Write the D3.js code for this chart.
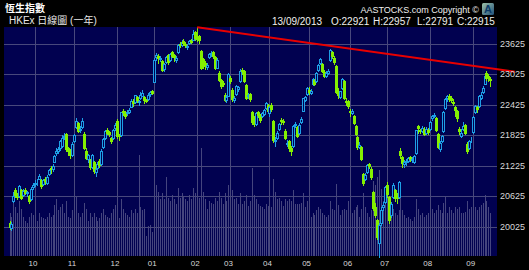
<!DOCTYPE html>
<html>
<head>
<meta charset="utf-8">
<script src="https://cdn.jsdelivr.net/npm/d3@7"></script>
<style>
  html, body { margin: 0; padding: 0; background: #000; }
  svg { display: block; }
  text { font-family: "Liberation Sans", Arial, sans-serif; }
</style>
</head>
<body>
<svg id="chart"></svg>
<script>
// HSI daily, 12/09/2012 - 13/09/2013
const dates = [
  "2012-09-12","2012-09-13","2012-09-14","2012-09-17","2012-09-18","2012-09-19","2012-09-20","2012-09-21","2012-09-24","2012-09-25","2012-09-26","2012-09-27","2012-09-28",
  "2012-10-03","2012-10-04","2012-10-05","2012-10-08","2012-10-09","2012-10-10","2012-10-11","2012-10-12","2012-10-15","2012-10-16","2012-10-17","2012-10-18","2012-10-19","2012-10-22","2012-10-24","2012-10-25","2012-10-26","2012-10-29","2012-10-30","2012-10-31",
  "2012-11-01","2012-11-02","2012-11-05","2012-11-06","2012-11-07","2012-11-08","2012-11-09","2012-11-12","2012-11-13","2012-11-14","2012-11-15","2012-11-16","2012-11-19","2012-11-20","2012-11-21","2012-11-22","2012-11-23","2012-11-26","2012-11-27","2012-11-28","2012-11-29","2012-11-30",
  "2012-12-03","2012-12-04","2012-12-05","2012-12-06","2012-12-07","2012-12-10","2012-12-11","2012-12-12","2012-12-13","2012-12-14","2012-12-17","2012-12-18","2012-12-19","2012-12-20","2012-12-21","2012-12-24","2012-12-27","2012-12-28","2012-12-31",
  "2013-01-02","2013-01-03","2013-01-04","2013-01-07","2013-01-08","2013-01-09","2013-01-10","2013-01-11","2013-01-14","2013-01-15","2013-01-16","2013-01-17","2013-01-18","2013-01-21","2013-01-22","2013-01-23","2013-01-24","2013-01-25","2013-01-28","2013-01-29","2013-01-30","2013-01-31",
  "2013-02-01","2013-02-04","2013-02-05","2013-02-06","2013-02-07","2013-02-08","2013-02-14","2013-02-15","2013-02-18","2013-02-19","2013-02-20","2013-02-21","2013-02-22","2013-02-25","2013-02-26","2013-02-27","2013-02-28",
  "2013-03-01","2013-03-04","2013-03-05","2013-03-06","2013-03-07","2013-03-08","2013-03-11","2013-03-12","2013-03-13","2013-03-14","2013-03-15","2013-03-18","2013-03-19","2013-03-20","2013-03-21","2013-03-22","2013-03-25","2013-03-26","2013-03-27","2013-03-28",
  "2013-04-02","2013-04-03","2013-04-05","2013-04-08","2013-04-09","2013-04-10","2013-04-11","2013-04-12","2013-04-15","2013-04-16","2013-04-17","2013-04-18","2013-04-19","2013-04-22","2013-04-23","2013-04-24","2013-04-25","2013-04-26","2013-04-29","2013-04-30",
  "2013-05-02","2013-05-03","2013-05-06","2013-05-07","2013-05-08","2013-05-09","2013-05-10","2013-05-13","2013-05-14","2013-05-15","2013-05-16","2013-05-20","2013-05-21","2013-05-22","2013-05-23","2013-05-24","2013-05-27","2013-05-28","2013-05-29","2013-05-30","2013-05-31",
  "2013-06-03","2013-06-04","2013-06-05","2013-06-06","2013-06-07","2013-06-10","2013-06-11","2013-06-13","2013-06-14","2013-06-17","2013-06-18","2013-06-19","2013-06-20","2013-06-21","2013-06-24","2013-06-25","2013-06-26","2013-06-27","2013-06-28",
  "2013-07-02","2013-07-03","2013-07-04","2013-07-05","2013-07-08","2013-07-09","2013-07-10","2013-07-11","2013-07-12","2013-07-15","2013-07-16","2013-07-17","2013-07-18","2013-07-19","2013-07-22","2013-07-23","2013-07-24","2013-07-25","2013-07-26","2013-07-29","2013-07-30","2013-07-31",
  "2013-08-01","2013-08-02","2013-08-05","2013-08-06","2013-08-07","2013-08-08","2013-08-09","2013-08-12","2013-08-13","2013-08-14","2013-08-15","2013-08-16","2013-08-19","2013-08-20","2013-08-21","2013-08-22","2013-08-23","2013-08-26","2013-08-27","2013-08-28","2013-08-29","2013-08-30",
  "2013-09-02","2013-09-03","2013-09-04","2013-09-05","2013-09-06","2013-09-09","2013-09-10","2013-09-11","2013-09-12","2013-09-13"
];

const open = [
  20090,20000,20520,20740,20640,20620,20750,20640,20750,20680,20620,20560,20800,
  20870,20900,20960,20930,20860,20950,20880,21060,21180,21150,21300,21480,21520,21560,21600,21780,21840,21560,21520,21440,
  21700,21980,22060,21930,21980,21850,21520,21350,21330,21200,21300,21100,21180,21320,21250,21580,21760,21930,21880,21760,21760,21960,
  22100,21830,21820,22300,22260,22250,22280,22380,22500,22480,22580,22480,22560,22600,22580,22510,22540,22640,22700,
  22860,23350,23380,23320,23280,23120,23260,23400,23300,23450,23390,23300,23450,23620,23600,23680,23620,23560,23640,23700,23700,23850,
  23760,23780,23480,23320,23240,23160,23360,23420,23450,23350,23150,23050,22900,22850,22620,22520,22600,
  22950,22720,22520,22640,22730,22880,23100,23080,22800,22600,22640,22280,22150,22050,22280,22200,22200,22240,22360,22420,
  22250,22420,22100,21700,21760,21950,22120,22100,21900,21650,21700,21560,21600,22030,21980,21860,22080,22300,22520,22640,
  22720,22660,22820,22900,22880,23100,23250,23220,23060,22980,23050,23300,23460,23330,23180,22700,22580,22750,22880,22500,22500,
  22300,22250,22200,22000,21780,21580,21580,21050,20950,21100,21250,21150,20700,20400,20150,19700,20100,20400,20500,
  20850,20600,20250,20600,20750,20620,20600,21520,21400,21250,21290,21320,21390,21340,21300,21480,22010,21920,21900,21950,21870,21930,
  21950,22150,22200,22150,21850,21550,21700,21900,22350,22560,22600,22560,22480,22380,22300,21950,21800,21950,22020,21650,21560,21720,
  21880,22280,22380,22400,22560,22680,22830,23050,22980,22921
];

const high = [
  20140,20110,20700,20790,20680,20850,20760,20760,20790,20720,20640,20800,20880,
  20930,20950,21060,20960,20960,20990,21030,21160,21220,21250,21440,21560,21590,21730,21830,21870,21860,21580,21540,21680,
  21840,22150,22090,22000,22150,21880,21560,21460,21350,21460,21320,21200,21290,21350,21540,21760,21930,21960,21900,21780,21950,22060,
  22140,21850,22280,22340,22290,22320,22360,22530,22540,22620,22600,22520,22680,22720,22600,22540,22660,22700,22720,
  23330,23440,23420,23380,23300,23240,23380,23420,23440,23480,23420,23370,23620,23650,23690,23720,23660,23620,23700,23720,23900,23870,
  23944,23800,23500,23340,23280,23240,23440,23480,23470,23370,23330,23080,22920,22880,22660,22620,23040,
  22980,22740,22600,22800,22790,23120,23150,23100,22820,22650,22660,22300,22200,22270,22300,22230,22280,22330,22480,22440,
  22400,22450,22120,21780,21900,22060,22160,22140,21950,21720,21720,21600,22030,22090,22000,22060,22180,22560,22600,22760,
  22760,22730,22940,22920,23060,23230,23340,23240,23100,23080,23120,23510,23480,23380,23200,22750,22700,22950,22900,22560,22520,
  22340,22340,22220,22020,21800,21680,21600,21080,21080,21260,21280,21200,20720,20480,20180,20100,20400,20500,20830,
  20900,20620,20500,20880,20770,20680,20920,21560,21420,21340,21350,21400,21410,21400,21440,21930,22020,21950,22000,21980,21980,21960,
  22110,22220,22260,22170,21870,21700,21830,22290,22560,22620,22640,22600,22540,22400,22320,21980,21950,22080,22040,21680,21720,21790,
  22200,22410,22400,22620,22680,22780,23000,23080,23020,22957
];

const low = [
  19970,19960,20500,20610,20560,20600,20560,20620,20660,20620,20480,20540,20770,
  20830,20850,20950,20790,20840,20860,20860,21030,21080,21120,21290,21440,21480,21530,21580,21740,21520,21440,21380,21420,
  21680,21970,21880,21880,21960,21540,21360,21300,21160,21180,21080,21020,21160,21200,21230,21560,21740,21840,21800,21660,21750,21920,
  21760,21720,21800,22220,22150,22220,22250,22370,22400,22460,22480,22420,22540,22590,22460,22480,22520,22600,22630,
  22860,23300,23250,23280,23090,23080,23240,23220,23280,23350,23280,23270,23440,23560,23580,23600,23560,23520,23620,23640,23690,23690,
  23680,23640,23120,23150,23130,23130,23340,23380,23330,23120,23140,22880,22740,22780,22500,22480,22590,
  22840,22500,22470,22620,22690,22870,23020,22860,22540,22560,22500,22050,22000,22030,22180,22090,22170,22220,22340,22260,
  22200,22300,21680,21600,21740,21930,22050,22040,21740,21600,21520,21440,21590,21990,21780,21840,22060,22290,22500,22620,
  22630,22640,22800,22800,22860,23080,23220,23060,22960,22960,23020,23290,23330,23230,22650,22560,22560,22730,22530,22420,22350,
  22200,22230,22040,21820,21550,21560,21330,20850,20930,21080,21170,20960,20350,20220,19780,19430,20050,20350,20480,
  20600,20100,20220,20580,20520,20480,20580,21380,21200,21200,21240,21300,21310,21300,21280,21460,21870,21860,21880,21820,21850,21850,
  21930,22120,22170,21900,21560,21520,21680,21880,22330,22500,22500,22480,22420,22200,22100,21840,21780,21930,21850,21480,21540,21690,
  21870,22260,22280,22380,22540,22660,22820,22900,22880,22791
];

const close = [
  20010,20080,20630,20650,20600,20820,20590,20730,20690,20700,20530,20760,20840,
  20890,20910,21010,20820,20940,20920,21000,21140,21150,21210,21420,21520,21550,21700,21760,21810,21550,21510,21430,21640,
  21820,22110,21910,21940,22100,21570,21380,21430,21190,21440,21110,21160,21260,21230,21520,21740,21910,21860,21840,21710,21920,22030,
  21800,21800,22270,22270,22190,22280,22320,22500,22450,22610,22510,22490,22620,22660,22510,22500,22620,22670,22660,
  23310,23400,23330,23330,23110,23220,23350,23260,23410,23380,23360,23340,23600,23590,23660,23640,23600,23580,23670,23660,23820,23730,
  23720,23690,23150,23250,23180,23210,23410,23440,23380,23140,23310,22910,22780,22820,22520,22580,23020,
  22880,22540,22560,22780,22770,23090,23090,22890,22560,22620,22530,22080,22040,22260,22220,22120,22250,22310,22460,22300,
  22370,22340,21730,21720,21870,22040,22100,22090,21770,21670,21570,21510,22010,22050,21810,22030,22140,22550,22580,22740,
  22670,22690,22920,22830,23050,23210,23320,23080,22990,23040,23080,23490,23370,23260,22670,22620,22690,22920,22550,22480,22390,
  22280,22290,22070,21840,21580,21620,21350,20890,21030,21230,21220,20990,20380,20260,19810,20060,20340,20440,20800,
  20660,20150,20470,20850,20580,20580,20900,21440,21280,21300,21310,21370,21350,21360,21420,21920,21965,21900,21970,21850,21950,21880,
  22090,22190,22220,21920,21590,21660,21810,22270,22540,22590,22540,22520,22460,22310,22150,21900,21860,22000,21870,21520,21700,21730,
  22180,22390,22330,22600,22620,22750,22980,22940,22950,22915
];

// turnover, HK$ bn (approx.)
const volume = [
  55,50,78,62,55,70,60,50,45,42,50,55,52,
  48,45,55,50,48,47,50,55,50,52,65,72,58,62,66,55,70,50,48,58,
  60,75,55,50,55,68,60,45,55,50,55,50,45,48,55,60,52,50,48,55,60,65,
  55,48,72,60,55,52,50,58,55,60,55,128,62,58,60,25,38,40,30,
  95,90,82,72,80,72,100,74,70,78,72,66,86,74,80,76,72,70,78,72,86,80,
  82,74,138,82,72,60,70,68,66,74,70,82,74,66,80,70,90,
  72,84,72,74,66,80,66,70,78,64,70,112,78,72,66,64,62,60,66,64,
  66,62,98,82,72,74,70,64,72,70,72,70,84,66,66,66,68,80,62,70,
  55,50,55,52,58,62,60,55,52,50,52,70,60,58,92,65,52,58,60,58,70,
  58,55,58,62,65,50,60,80,62,55,50,58,95,90,100,110,85,70,75,
  62,72,60,60,55,52,58,75,58,52,48,50,47,45,50,72,60,52,55,50,52,55,
  58,60,55,58,65,58,55,68,75,55,62,58,55,62,60,62,55,55,56,70,60,62,
  58,62,58,62,65,68,78,70,62,55
];

const yTicks = [20025, 20625, 21225, 21825, 22425, 23025, 23625];

// resistance line: from the Feb high, extended past the last day
const trendIdx = [96, 258.6];
const trendVal = [23944, 23070];

const width = 529;
const height = 270;
const panel = { left: 4, right: 497, top: 27, bottom: 256 };

const upColor = "#1e9fe6";
const downColor = "#84f000";

const svg = d3.select("#chart").attr("width", width).attr("height", height);

const x = d3.scaleLinear().domain([0, dates.length - 1]).range([9.5, 490.4]);
const y = d3.scaleLinear().domain([20025, 23625]).range([226.5, 43.5]);
const yVol = d3.scaleLinear().domain([0, 140]).range([panel.bottom, panel.bottom - 110]);

const px = (i) => Math.round(x(i));
const py = (v) => Math.round(y(v));

svg.append("rect").attr("width", width).attr("height", height).attr("fill", "#000");

svg
  .append("rect")
  .attr("x", panel.left)
  .attr("y", panel.top)
  .attr("width", panel.right - panel.left)
  .attr("height", panel.bottom - panel.top)
  .attr("fill", "#010150");

// volume
svg
  .append("g")
  .selectAll("rect")
  .data(volume)
  .join("rect")
  .attr("x", (d, i) => px(i))
  .attr("y", (d) => Math.round(yVol(d)))
  .attr("width", 1)
  .attr("height", (d) => panel.bottom - Math.round(yVol(d)))
  .attr("fill", "#45457e");

// month starts
const monthStarts = dates
  .map((d, i) => ({ i, m: d.slice(5, 7) }))
  .filter((d, i, arr) => i > 0 && d.m !== arr[i - 1].m);

const grid = svg.append("g").attr("stroke", "#48487c").attr("stroke-width", 1);

grid
  .selectAll(".vgrid")
  .data(monthStarts)
  .join("line")
  .attr("class", "vgrid")
  .attr("x1", (d) => px(d.i) + 0.5)
  .attr("x2", (d) => px(d.i) + 0.5)
  .attr("y1", panel.top)
  .attr("y2", panel.bottom);

grid
  .selectAll(".hgrid")
  .data(yTicks)
  .join("line")
  .attr("class", "hgrid")
  .attr("x1", panel.left)
  .attr("x2", panel.right)
  .attr("y1", (d) => py(d) + 0.5)
  .attr("y2", (d) => py(d) + 0.5);

// candles
const candles = svg
  .append("g")
  .selectAll("g")
  .data(dates.map((d, i) => ({ i, o: open[i], h: high[i], l: low[i], c: close[i] })))
  .join("g");

candles
  .append("line")
  .attr("x1", (d) => px(d.i) + 0.5)
  .attr("x2", (d) => px(d.i) + 0.5)
  .attr("y1", (d) => py(d.h))
  .attr("y2", (d) => py(d.l) + 1)
  .attr("stroke", (d) => (d.c >= d.o ? upColor : downColor));

candles
  .filter((d) => d.c >= d.o)
  .append("rect")
  .attr("x", (d) => px(d.i) - 0.5)
  .attr("y", (d) => py(d.c) + 0.5)
  .attr("width", 2)
  .attr("height", (d) => Math.max(0, py(d.o) - py(d.c)))
  .attr("fill", "#010150")
  .attr("stroke", upColor);

candles
  .filter((d) => d.c < d.o)
  .append("rect")
  .attr("x", (d) => px(d.i) - 1)
  .attr("y", (d) => py(d.o))
  .attr("width", 3)
  .attr("height", (d) => Math.max(1, py(d.c) - py(d.o) + 1))
  .attr("fill", downColor);

// trend line
svg
  .append("line")
  .attr("x1", x(trendIdx[0]))
  .attr("y1", y(trendVal[0]))
  .attr("x2", x(trendIdx[1]))
  .attr("y2", y(trendVal[1]))
  .attr("stroke", "#e80000")
  .attr("stroke-width", 2);

// right axis
svg
  .append("g")
  .selectAll("text")
  .data(yTicks)
  .join("text")
  .attr("x", 500)
  .attr("y", (d) => y(d))
  .attr("dy", "0.35em")
  .attr("fill", "#d8d8d8")
  .attr("font-size", 9)
  .text((d) => d);

// month labels
svg
  .append("g")
  .selectAll("text")
  .data(monthStarts)
  .join("text")
  .attr("x", (d) => x(d.i) - 2)
  .attr("y", 266)
  .attr("text-anchor", "middle")
  .attr("fill", "#d8d8d8")
  .attr("font-size", 8)
  .text((d) => d.m);

// header
svg
  .append("text")
  .attr("x", 5)
  .attr("y", 12)
  .attr("fill", "#fff")
  .attr("font-size", 10)
  .attr("font-weight", "bold")
  .style("font-family", '"Noto Sans CJK TC", sans-serif')
  .text("恆生指數");

svg
  .append("text")
  .attr("x", 9)
  .attr("y", 24)
  .attr("fill", "#e8e8e8")
  .attr("font-size", 10)
  .style("font-family", '"Liberation Sans", "Noto Sans CJK TC", sans-serif')
  .text("HKEx 日線圖 (一年)");

svg
  .append("text")
  .attr("x", 479)
  .attr("y", 12.5)
  .attr("text-anchor", "end")
  .attr("fill", "#f0f0f0")
  .attr("font-size", 9)
  .text("AASTOCKS.com Copyright ©");

// logo
const logoGrad = svg
  .append("defs")
  .append("linearGradient")
  .attr("id", "logoGrad")
  .attr("x1", 0)
  .attr("y1", 0)
  .attr("x2", 1)
  .attr("y2", 1);
logoGrad.append("stop").attr("offset", 0).attr("stop-color", "#9fc3a8");
logoGrad.append("stop").attr("offset", 1).attr("stop-color", "#1f4f7a");
svg
  .append("rect")
  .attr("x", 482)
  .attr("y", 3)
  .attr("width", 12)
  .attr("height", 12)
  .attr("rx", 1.5)
  .attr("fill", "url(#logoGrad)");
svg
  .append("text")
  .attr("x", 488)
  .attr("y", 13)
  .attr("text-anchor", "middle")
  .attr("fill", "#0b3a66")
  .attr("font-size", 11)
  .attr("font-weight", "bold")
  .text("A");

const last = dates.length - 1;
const [yy, mm, dd] = dates[last].split("-");
const quote = [
  { x: 272, t: `${dd}/${mm}/${yy}` },
  { x: 331, t: `O:${open[last]}` },
  { x: 373, t: `H:${high[last]}` },
  { x: 417, t: `L:${low[last]}` },
  { x: 457, t: `C:${close[last]}` },
];
svg
  .append("g")
  .selectAll("text")
  .data(quote)
  .join("text")
  .attr("x", (d) => d.x)
  .attr("y", 24.5)
  .attr("fill", "#f0f0f0")
  .attr("font-size", 10)
  .text((d) => d.t);
</script>
</body>
</html>
